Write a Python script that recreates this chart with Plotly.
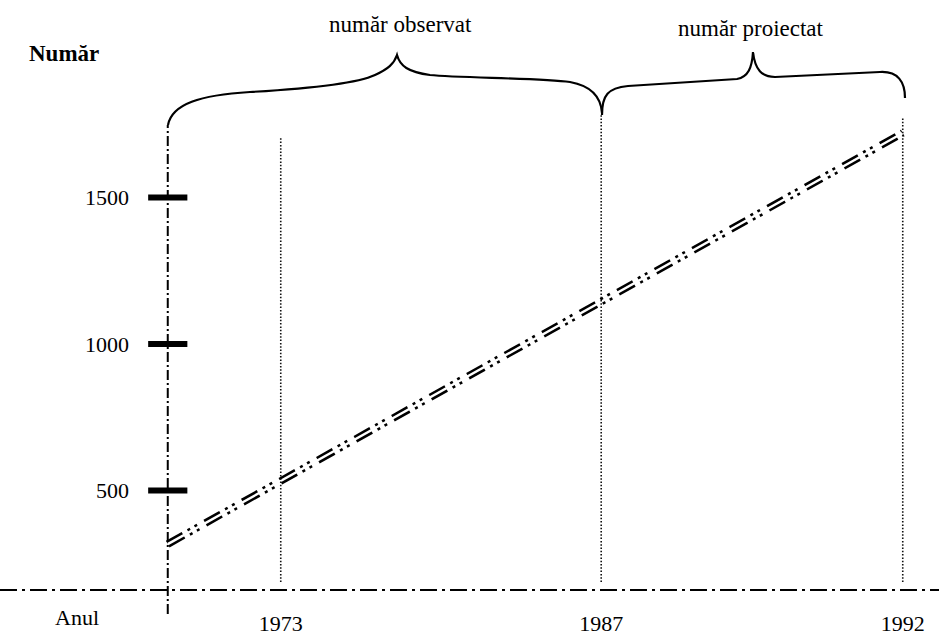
import plotly.graph_objects as go

# ---------------- data ----------------
ani = ["1973", "1987", "1992"]              # year labels on the time axis
ani_x = [14.65, 56.2, 95.3]                 # their place on the schematic time axis
linie_x = [0, 14.65, 56.2, 95.3]            # points of the trend line
numar = [317, 533, 1144, 1720]              # number (observed -> projected)
y_tickvals = [500, 1000, 1500]
y_ticktext = ["500", "1000", "1500"]
acolade = ["număr observat", "număr proiectat"]

# ---------------- geometry ----------------
W, H = 939, 637
ML, MB = 140, 47
PW, PH = W - ML, H - MB
x_range = [-3.6, 100]
y_range = [160.4, 2174]
FONT = "Liberation Serif, Times New Roman, serif"


def px2paper(px, py):
    return (px - ML) / PW, (PH - py) / PH


def path_from_px(cmds):
    out = []
    for c in cmds:
        op, pts = c[0], c[1:]
        s = op
        for (px, py) in pts:
            xp, yp = px2paper(px, py)
            s += f" {xp:.5f},{yp:.5f}"
        out.append(s)
    return " ".join(out)


fig = go.Figure()

# double dash-dot-dot trend line: thick black dashed line split by a thin white line
fig.add_trace(go.Scatter(
    x=linie_x, y=numar, mode="lines",
    line=dict(color="black", width=7.5, dash="18px,6px,3px,5px,3px,8px"),
    hoverinfo="skip", showlegend=False))
fig.add_trace(go.Scatter(
    x=linie_x, y=numar, mode="lines",
    line=dict(color="white", width=2.4),
    hoverinfo="skip", showlegend=False))

# thick tick bars on the vertical axis
fig.add_trace(go.Scatter(
    x=[0] * len(y_tickvals), y=y_tickvals, mode="markers",
    marker=dict(symbol="line-ew", size=28, line=dict(color="black", width=6)),
    cliponaxis=False, hoverinfo="skip", showlegend=False))

shapes = []
# horizontal axis (dash-dot), across whole width
x0p, _ = px2paper(0, 0)
shapes.append(dict(type="line", xref="paper", yref="paper", x0=x0p, x1=1, y0=0, y1=0,
                   line=dict(color="black", width=2, dash="17px,5px,3px,5px")))
# vertical axis (dash-dot)
_, yb = px2paper(0, 614)
_, yt = px2paper(0, 125)
shapes.append(dict(type="line", xref="x", yref="paper", x0=0, x1=0, y0=yb, y1=yt,
                   line=dict(color="black", width=2, dash="10px,3px,2px,3px")))
# dotted year lines
tops_px = [137, 115, 117]
for xv, tp in zip(ani_x, tops_px):
    _, ytp = px2paper(0, tp)
    _, ybt = px2paper(0, 582)
    shapes.append(dict(type="line", xref="x", yref="paper", x0=xv, x1=xv, y0=ybt, y1=ytp,
                       line=dict(color="#111", width=1.6, dash="1.5px,1.8px")))

# curly braces
brace1 = [("M", (168, 125)),
          ("C", (172, 104), (200, 95), (250, 92)),
          ("C", (320, 88), (360, 82), (375, 75)),
          ("C", (388, 69), (394, 64), (397, 55)),
          ("C", (400, 66), (408, 72), (430, 75)),
          ("C", (460, 78), (540, 78), (570, 82)),
          ("C", (592, 86), (601, 98), (602, 113))]
brace2 = [("M", (602, 115)),
          ("C", (602, 95), (608, 88), (628, 86)),
          ("L", (737, 79)),
          ("C", (748, 77), (752, 68), (753, 52)),
          ("C", (755, 70), (762, 77), (775, 77)),
          ("L", (880, 72)),
          ("C", (898, 71), (905, 82), (905, 98))]
for b in (brace1, brace2):
    shapes.append(dict(type="path", xref="paper", yref="paper", path=path_from_px(b),
                       line=dict(color="black", width=2.2)))

annotations = []


def add_text(txt, px, py, size, bold=False):
    xp, yp = px2paper(px, py)
    annotations.append(dict(
        text=f"<b>{txt}</b>" if bold else txt, x=xp, y=yp, xref="paper", yref="paper",
        xanchor="center", yanchor="middle", showarrow=False,
        font=dict(family=FONT, size=size, color="black")))


add_text("Număr", 64, 53, 23, bold=True)
add_text(acolade[0], 400, 24, 23)
add_text(acolade[1], 751, 28, 23)
add_text("Anul", 77, 617, 22)

fig.update_layout(
    width=W, height=H,
    margin=dict(l=ML, r=0, t=0, b=MB, pad=0),
    paper_bgcolor="white", plot_bgcolor="white",
    showlegend=False, hovermode=False,
    shapes=shapes, annotations=annotations,
    xaxis=dict(range=x_range, showgrid=False, zeroline=False, showline=False,
               tickvals=ani_x, ticktext=ani, ticks="",
               tickfont=dict(family=FONT, size=22, color="black"),
               ticklabelstandoff=18, fixedrange=True),
    yaxis=dict(range=y_range, showgrid=False, zeroline=False, showline=False,
               tickvals=y_tickvals, ticktext=y_ticktext, ticks="",
               tickfont=dict(family=FONT, size=22, color="black"),
               ticklabelstandoff=10, fixedrange=True),
)

fig.write_html("out.html", config={"staticPlot": True},
               post_script="document.body.style.margin='0';document.body.style.overflow='hidden';")
